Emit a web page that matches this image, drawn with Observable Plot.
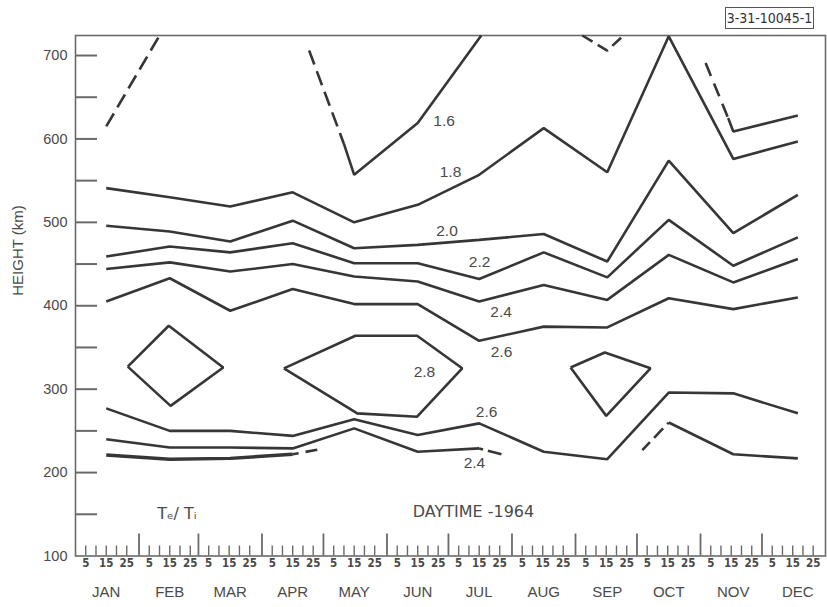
<!DOCTYPE html>
<html><head><meta charset="utf-8">
<script src="https://cdn.jsdelivr.net/npm/d3@7"></script>
<script src="https://cdn.jsdelivr.net/npm/@observablehq/plot@0.6"></script>
<style>
body{margin:0;background:#fff;}
#wrap{position:relative;width:827px;height:607px;}
#wrap svg{position:absolute;left:0;top:0;}
#tagline{position:absolute;left:712px;top:7px;width:101px;height:0;border-top:1px solid #555;}
#tag{position:absolute;left:725px;top:7px;width:87px;height:20px;border:1px solid #555;font:14px "Liberation Sans Narrow","DejaVu Sans Condensed",sans-serif;font-stretch:condensed;color:#333;text-align:center;line-height:21px;z-index:2;}
</style></head><body><div id="wrap"><div id="tagline"></div><div id="tag">3-31-10045-1</div></div>
<script>
// ---- axes / categories ----
const months = ["JAN","FEB","MAR","APR","MAY","JUN","JUL","AUG","SEP","OCT","NOV","DEC"];
const monthStart = [0,31,60,91,121,152,182,213,244,274,305,335,366]; // day of year, 1964
const midMonth = [15,46,75.5,106,136,167,197,228.5,259.5,289.5,321,352.5];
const dayTickLabels = ["5","15","25"];
const minorDays = [5,10,15,20,25];
const heightTicks = [150,200,250,300,350,400,450,500,550,600,650,700];
const heightTickLabels = [100,200,300,400,500,600,700];

// ---- contour heights (km) at mid-month, Te/Ti ----
const c18 = [541,530,519,536,500,521,557,613,560,723,576,597];
const c20 = [496,489,477,502,469,473,479,486,453,574,487,533];
const c22 = [459,471,464,475,451,451,432,464,434,503,448,482];
const c24 = [444,452,441,450,435,429,405,425,407,461,428,456];
const c26 = [405,433,394,420,402,402,358,375,374,409,396,410];
const c26low = [277,250,250,244,264,245,259,225,216,296,295,271];
const c24low = [240,230,230,229,253,225,229,null,null,260,222,217];
const c22low = [221,216,217,222,null,null,null,null,null,null,null,null];

// ---- free-form pieces: [day, km] ----
const c16a = [[131,594],[136,557],[167,619],[198,724]];
const c16b = [[318.5,625],[321,609],[352.5,628]];
const dashJan = [[15,615],[41,724]];
const dashApr = [[114,706],[131,594]];
const dashSep = [[247.3,724],[259.5,706],[267.4,724]];
const dashNov = [[307.5,691],[318.5,625]];
const dashLow22 = [[106,222],[126,231]];
const dashLow24a = [[197,229],[214,218]];
const dashLow24b = [[276.6,227],[289.5,260]];
const ring28a = [[25.5,327],[45.5,376],[72.1,326],[46.4,280],[25.5,327]];
const ring28b = [[101.7,325],[136.6,364],[166.7,364],[188.7,325],[166.7,267],[137.5,271],[101.7,325]];
const ring28c = [[241.6,326],[258.3,344],[280.6,325],[259,268],[241.6,326]];

const contourLabels = [
  {x:179.9,y:621,t:"1.6"},{x:183,y:560,t:"1.8"},{x:181.3,y:490,t:"2.0"},
  {x:197.2,y:452,t:"2.2"},{x:207.7,y:392,t:"2.4"},{x:207.9,y:344,t:"2.6"},
  {x:170.3,y:321,t:"2.8"},{x:200.6,y:272,t:"2.6"},{x:194.7,y:212,t:"2.4"}
];
const notes = [{x:49.5,y:151,t:"Tₑ/ Tᵢ"},{x:194.2,y:153,t:"DAYTIME -1964"}];

// ---- build ----
const W = 827, H = 607, mL = 75, mR = 2, mT = 35, mB = 51.5;
const frameW = W - mL - mR, frameH = H - mT - mB;
const ink = "#363636", txt = "#4a4a4a", axisC = "#6a6a6a";
const mm = arr => arr.map((v,i)=>({x:midMonth[i], y:v}));
const pp = arr => arr.map(([x,y])=>({x,y}));
const solid = {x:"x", y:"y", stroke:ink, strokeWidth:2.6, strokeLinejoin:"miter", strokeLinecap:"butt"};
const dashed = {...solid, strokeDasharray:"15,7"};

const dayLabels = [];
const minorTicks = [];
for (let m = 0; m < 12; m++) {
  for (const d of dayTickLabels) dayLabels.push({x: monthStart[m] + (+d), t: d});
  for (const d of minorDays) minorTicks.push(monthStart[m] + d);
}

const chart = Plot.plot({
  width: W, height: H,
  marginLeft: mL, marginRight: mR, marginTop: mT, marginBottom: mB,
  style: {fontFamily: "'Liberation Sans', Arial, sans-serif", background: "#fff"},
  x: {domain: [0, 366], axis: null},
  y: {domain: [100, 724], axis: null},
  marks: [
    Plot.frame({stroke: axisC, strokeWidth: 1.6}),
    Plot.ruleY(heightTicks, {y: d=>d, insetRight: frameW - 22, stroke: axisC, strokeWidth: 2}),
    Plot.ruleX(monthStart.slice(1,12), {x: d=>d, insetTop: frameH - 22, stroke: axisC, strokeWidth: 1.8}),
    Plot.ruleX(minorTicks, {x: d=>d, insetTop: frameH - 10, stroke: axisC, strokeWidth: 1.4}),
    Plot.text(heightTickLabels, {y: d=>d, frameAnchor: "left", textAnchor: "end", dx: -8, fontSize: 14.5, fill: txt}),
    Plot.text(dayLabels, {x: "x", text: "t", frameAnchor: "bottom", dy: 11, fontSize: 11.5, fill: txt, fontFamily: "'Liberation Sans Narrow','DejaVu Sans Condensed',sans-serif", fontWeight: "bold"}),
    Plot.text(months, {x: (d,i)=>midMonth[i], frameAnchor: "bottom", dy: 41, fontSize: 15, fill: txt, letterSpacing: "0.8px"}),
    Plot.text(["HEIGHT (km)"], {frameAnchor: "left", dx: -57, rotate: -90, fontSize: 15, fill: txt, letterSpacing: "1.5px"}),
    Plot.line(mm(c18), solid),
    Plot.line(mm(c20), solid),
    Plot.line(mm(c22), solid),
    Plot.line(mm(c24), solid),
    Plot.line(mm(c26), solid),
    Plot.line(mm(c26low), solid),
    Plot.line(mm(c24low), solid),
    Plot.line(mm(c22low), {...solid, strokeWidth: 3.4}),
    Plot.line(pp(c16a), solid),
    Plot.line(pp(c16b), solid),
    Plot.line(pp(ring28a), solid),
    Plot.line(pp(ring28b), solid),
    Plot.line(pp(ring28c), solid),
    Plot.line(pp(dashJan), dashed),
    Plot.line(pp(dashApr), dashed),
    Plot.line(pp(dashSep), {...dashed, strokeDasharray: "12,6"}),
    Plot.line(pp(dashNov), {...dashed, strokeDasharray: "14,8"}),
    Plot.line(pp(dashLow22), {...dashed, strokeDasharray: "6,7,12,20"}),
    Plot.line(pp(dashLow24a), {...dashed, strokeDasharray: "4,5,14,20"}),
    Plot.line(pp(dashLow24b), {...dashed, strokeDasharray: "11,6,13,6,20"}),
    Plot.text(contourLabels, {x: "x", y: "y", text: "t", fontSize: 15.5, fill: txt}),
    Plot.text(notes, {x: "x", y: "y", text: "t", fontSize: 16, fill: txt, letterSpacing: "0.6px", fontFamily: "'DejaVu Sans', sans-serif"})
  ]
});
document.getElementById("wrap").appendChild(chart);
</script>
</body></html>
